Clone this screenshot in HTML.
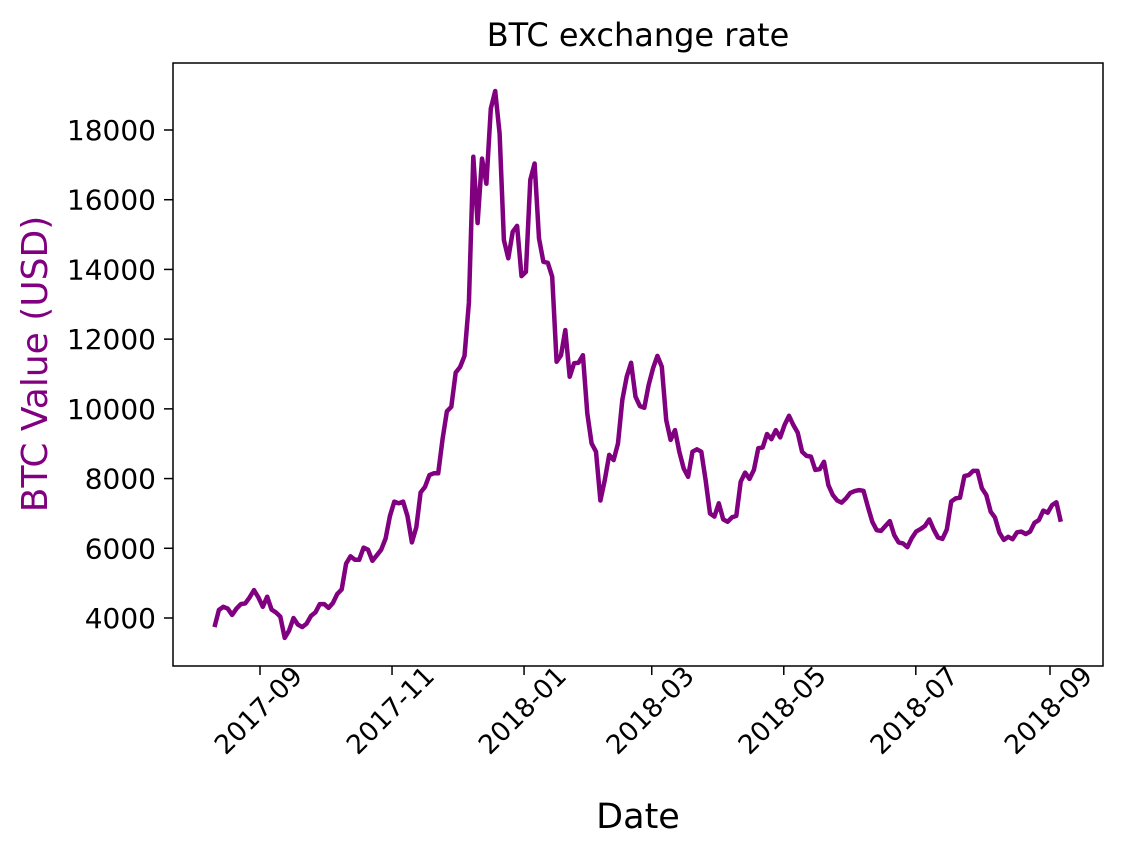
<!DOCTYPE html>
<html><head><meta charset="utf-8"><style>
html,body{margin:0;padding:0;background:#fff;}
svg{display:block;font-family:"DejaVu Sans","Liberation Sans",sans-serif;}
</style></head><body>
<svg id="chart" width="1123" height="853" viewBox="0 0 1123 853" xmlns="http://www.w3.org/2000/svg">
<rect width="1123" height="853" fill="#fff"/>
<text x="638" y="46" font-size="32" text-anchor="middle">BTC exchange rate</text>
<text x="0" y="0" font-size="36" fill="#800080" text-anchor="middle" transform="translate(47,364) rotate(-90)">BTC Value (USD)</text>
<text x="638" y="828" font-size="35" text-anchor="middle">Date</text>
<g id="ticks"></g>
<path id="line" fill="none" stroke="#800080" stroke-width="4.5" stroke-linejoin="round"/>
<rect x="173" y="63" width="930" height="603" fill="none" stroke="#000" stroke-width="1.5"/>
</svg>
<script>
const startDate = "2017-08-11";
const endDate = "2018-09-06";
const values = [3740,4230,4320,4270,4090,4270,4400,4420,4590,4800,4590,4320,4610,4240,4160,4040,3430,3640,4000,3810,3740,3840,4060,4160,4400,4400,4290,4430,4690,4820,5560,5770,5670,5670,6020,5960,5640,5800,5960,6280,6920,7340,7290,7340,6920,6170,6600,7600,7760,8100,8150,8150,9140,9930,10060,11040,11200,11520,13050,17230,15330,17180,16460,18610,19120,
17900,14840,14320,15080,15250,13810,13930,16570,17040,14890,14220,14190,13790,11350,11540,12260,10920,11310,11320,11540,9870,9010,8770,7370,7960,8680,8530,9010,10250,10920,11320,10350,10080,10030,10680,11160,11520,11210,9680,9110,9390,8770,8290,8050,8770,8840,8770,7960,7000,6910,7290,6830,6760,6890,
6930,7910,8170,7990,8250,8870,8890,9280,9130,9390,9180,9540,9800,9540,9320,8770,8650,8630,8250,8270,8480,7810,7530,7370,7310,7430,7590,7640,7670,7650,7190,6760,6520,6500,6640,6780,6380,6170,6140,6030,6290,6480,6550,6640,6830,6540,6310,6270,6540,7340,7430,7450,8070,8100,8220,8220,7720,7530,7050,6880,6450,6240,6330,6260,6460,6480,6410,6480,6730,6810,7080,7020,7240,7320,6760];
const yTicks = [4000,6000,8000,10000,12000,14000,16000,18000];
const xTicks = ["2017-09-01","2017-11-01","2018-01-01","2018-03-01","2018-05-01","2018-07-01","2018-09-01"];
const xTickLabels = ["2017-09","2017-11","2018-01","2018-03","2018-05","2018-07","2018-09"];

const NS = "http://www.w3.org/2000/svg";
const day = s => Date.parse(s + "T00:00:00Z") / 86400000;
const d0 = day("2017-09-01");
const xScale = d => 260 + (d - d0) * (790 / 365);
const yScale = v => 130 + (18000 - v) * (488 / 14000);

const g = document.getElementById('ticks');
yTicks.forEach(v => {
  const y = yScale(v);
  const l = document.createElementNS(NS, 'line');
  
  
  l.setAttribute('x1', 164); l.setAttribute('x2', 173);
  l.setAttribute('y1', y); l.setAttribute('y2', y);
  l.setAttribute('stroke', '#000'); l.setAttribute('stroke-width', '1.5');
  g.appendChild(l);
  const t = document.createElementNS(NS, 'text');
  
  
  t.setAttribute('x', 156); t.setAttribute('y', y + 10);
  t.setAttribute('font-size', '28'); t.setAttribute('text-anchor', 'end');
  t.textContent = v;
  g.appendChild(t);
});
xTicks.forEach((s, i) => {
  const x = xScale(day(s));
  const l = document.createElementNS(NS, 'line');
  
  
  l.setAttribute('x1', x); l.setAttribute('x2', x);
  l.setAttribute('y1', 666); l.setAttribute('y2', 675);
  l.setAttribute('stroke', '#000'); l.setAttribute('stroke-width', '1.5');
  g.appendChild(l);
  const t = document.createElementNS(NS, 'text');
  
  
  t.setAttribute('x', 0); t.setAttribute('y', 9.5);
  t.setAttribute('font-size', '26.5'); t.setAttribute('text-anchor', 'middle');
  t.setAttribute('transform', `translate(${x - 2},${710}) rotate(-45)`);
  t.textContent = xTickLabels[i];
  g.appendChild(t);
});
const ds = day(startDate), de = day(endDate);
const step = (de - ds) / (values.length - 1);
let p = '';
values.forEach((v, i) => {
  p += (i ? 'L' : 'M') + xScale(ds + i * step).toFixed(1) + ',' + yScale(v).toFixed(1);
});
document.getElementById('line').setAttribute('d', p);
</script>
</body></html>
